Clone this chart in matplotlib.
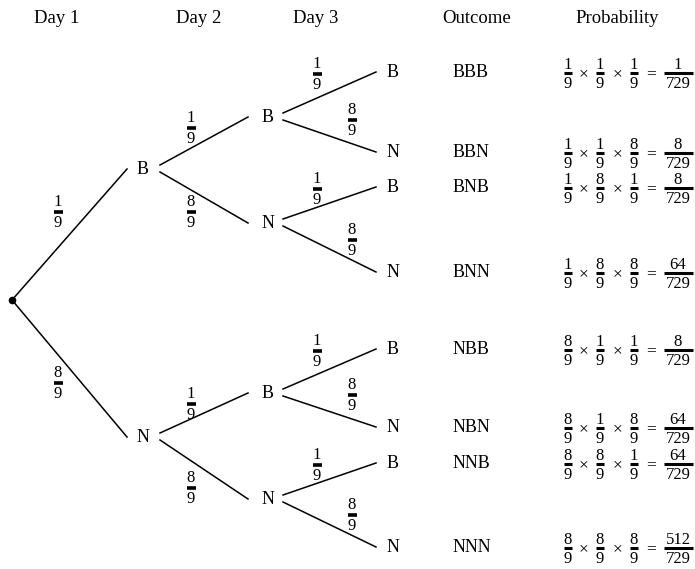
import matplotlib
matplotlib.use("Agg")
import matplotlib.pyplot as plt

plt.rcParams['font.family'] = ['Liberation Serif', 'DejaVu Serif']

# Column headers
headers = ["Day 1", "Day 2", "Day 3", "Outcome", "Probability"]

# Branch probabilities (numerator, denominator) for each result
branch_prob = {"B": (1, 9), "N": (8, 9)}

# Tree levels: node labels per day
level_labels = [
    ["B", "N"],
    ["B", "N", "B", "N"],
    ["B", "N", "B", "N", "B", "N", "B", "N"],
]

# Outcomes and their products
outcomes = ["BBB", "BBN", "BNB", "BNN", "NBB", "NBN", "NNB", "NNN"]
result_num = [1, 8, 8, 64, 8, 64, 64, 512]
result_den = 729

# Layout (pixels, y downwards)
col_x = [12, 143, 268, 393]
header_x = [57, 199, 316, 477, 617]
level_y = [
    [300],
    [169, 437],
    [117, 223, 393, 499],
    [72, 152, 187, 272, 349, 427, 463, 547],
]
start_gap = [0, 17, 15]
end_gap = [16, 20, 17]
# label offset relative to child node, (upper child, lower child)
label_off = [((-85, 43), (-85, -54)),
             ((-77, 11), (-77, -11)),
             ((-76, 2), (-41, -32))]

fig = plt.figure(figsize=(6.95, 5.69), dpi=100)
ax = fig.add_axes([0, 0, 1, 1])
ax.set_xlim(0, 695)
ax.set_ylim(569, 0)
ax.axis("off")


def frac(x, y, num, den, size, barw, lw, up=9, down=10):
    ax.text(x, y - up, str(num), ha="center", va="center", fontsize=size)
    ax.text(x, y + down, str(den), ha="center", va="center", fontsize=size)
    ax.plot([x - barw / 2, x + barw / 2], [y, y], color="black", lw=lw,
            solid_capstyle="butt")


for hx, h in zip(header_x, headers):
    ax.text(hx, 18, h, ha="center", va="center", fontsize=13.5)

# root dot
ax.plot(col_x[0], level_y[0][0], "o", color="black", markersize=4.5)

for lev in range(3):
    px = col_x[lev]
    cx = col_x[lev + 1]
    for j, lab in enumerate(level_labels[lev]):
        py = level_y[lev][j // 2]
        cy = level_y[lev + 1][j]
        up = j % 2 == 0
        sy = py if lev == 0 else (py - 4 if up else py + 3)
        ax.plot([px + start_gap[lev], cx - end_gap[lev]], [sy, cy],
                color="black", lw=1.1)
        ax.text(cx, cy, lab, ha="center", va="center", fontsize=13)
        dx, dy = label_off[lev][0 if up else 1]
        n, d = branch_prob[lab]
        frac(cx + dx, cy + dy, n, d, 12, 9, 2.6, up=10, down=11)

# outcomes and probability products
expr_x = [568, 600, 634]
times_x = [584, 617]
eq_x = 651
res_x = 678
for i, out in enumerate(outcomes):
    y = level_y[3][i] + 1
    ax.text(453, level_y[3][i], out, ha="left", va="center", fontsize=13)
    for k, ch in enumerate(out):
        n, d = branch_prob[ch]
        frac(expr_x[k], y, n, d, 12, 8, 2.2, up=8, down=11)
    for tx in times_x:
        ax.text(tx, y + 1, "×", ha="center", va="center", fontsize=12.5)
    ax.text(eq_x, y + 1, "=", ha="center", va="center", fontsize=12.5)
    frac(res_x, y, result_num[i], result_den, 12, 29, 2.2, up=8, down=11)

fig.savefig("out.png", dpi=100)
